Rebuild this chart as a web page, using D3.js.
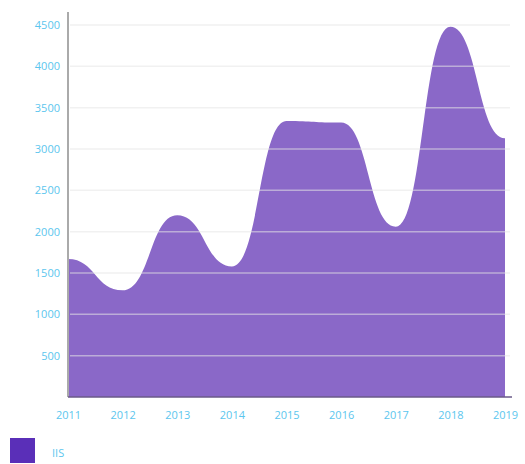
<!DOCTYPE html>
<html>
<head>
<meta charset="utf-8">
<script src="https://cdn.jsdelivr.net/npm/d3@7"></script>
<style>
  body { margin: 0; background: #fff; }
  #graf text { font-family: "Open Sans", sans-serif; }
</style>
</head>
<body>
<div id="graf"></div>
<script>
// datos
const years = ["2011", "2012", "2013", "2014", "2015", "2016", "2017", "2018", "2019"]
const valores = [1670, 1290, 2200, 1580, 3340, 3320, 2060, 4480, 3130]
const yTicks = [500, 1000, 1500, 2000, 2500, 3000, 3500, 4000, 4500]
const serie = "IIS"

const anchoTotal = 525
const altoTotal = 464
const margins = { top: 12, right: 20, bottom: 67, left: 68 }
const ancho = anchoTotal - margins.left - margins.right
const alto = altoTotal - margins.top - margins.bottom

const svg = d3.select("#graf")
  .append("svg")
  .attr("width", anchoTotal)
  .attr("height", altoTotal)

const g = svg.append("g")
  .attr("transform", `translate(${margins.left}, ${margins.top})`)

const data = years.map((d, i) => ({ anio: d, votos: valores[i] }))

// Escaladores
const x = d3.scalePoint()
  .domain(years)
  .range([0, 437])

const y = d3.scaleLinear()
  .domain([0, 4500])
  .range([alto, alto - 4500 * 0.08267])

// Area
const area = d3.area()
  .x(d => x(d.anio))
  .y0(y(0))
  .y1(d => y(d.votos))
  .curve(d3.curveBumpX)

g.append("path")
  .datum(data)
  .attr("d", area)
  .attr("fill", "#8a68c8")

// lineas de la rejilla encima del area
g.selectAll(".grid")
  .data(yTicks)
  .enter()
  .append("line")
  .attr("x1", 2)
  .attr("x2", 442)
  .attr("y1", d => y(d))
  .attr("y2", d => y(d))
  .attr("stroke", "#e6e6e6")
  .attr("stroke-opacity", 0.55)
  .attr("stroke-width", 1.5)

// Ejes
const yAxis = d3.axisLeft(y).tickValues(yTicks).tickFormat(d3.format("d")).tickSize(0).tickPadding(8)
const yAxisGroup = g.append("g").call(yAxis)
yAxisGroup.select(".domain").remove()
yAxisGroup.selectAll("text")
  .attr("fill", "#5cc6ee")
  .style("font-size", "11px")

g.append("line")
  .attr("x1", 0).attr("x2", 0)
  .attr("y1", 0).attr("y2", alto)
  .attr("stroke", "#aaa")
  .attr("stroke-width", 2)

g.append("line")
  .attr("x1", 0).attr("x2", 444)
  .attr("y1", alto).attr("y2", alto)
  .attr("stroke", "#6a5a88")
  .attr("stroke-width", 1.5)

const xAxis = d3.axisBottom(x).tickSize(0).tickPadding(14)
const xAxisGroup = g.append("g")
  .attr("transform", `translate(0, ${alto})`)
  .call(xAxis)
xAxisGroup.select(".domain").remove()
xAxisGroup.selectAll("text")
  .attr("fill", "#5cc6ee")
  .style("font-size", "11px")

// Leyenda
svg.append("rect")
  .attr("x", 10)
  .attr("y", 438)
  .attr("width", 25)
  .attr("height", 25)
  .attr("fill", "#5a2fb8")

svg.append("text")
  .attr("x", 52)
  .attr("y", 457)
  .attr("fill", "#5cc6ee")
  .style("font-size", "11px")
  .text(serie)
</script>
</body>
</html>
